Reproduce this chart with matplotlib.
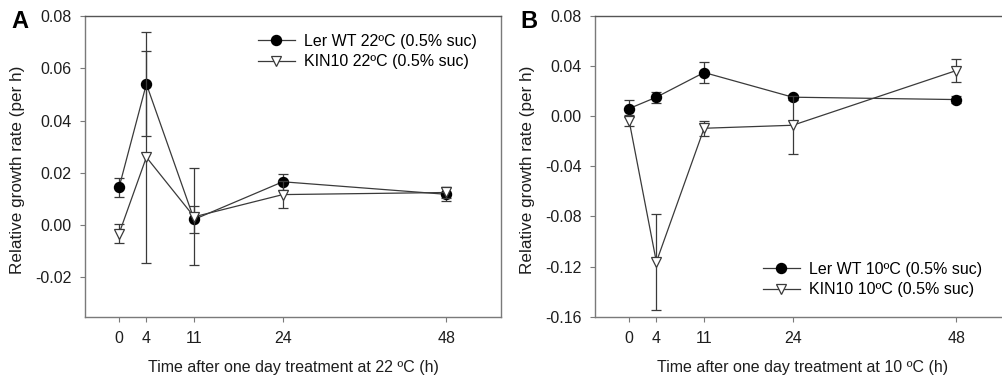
import matplotlib
matplotlib.use("Agg")
import matplotlib.pyplot as plt
from matplotlib.lines import Line2D

plt.rcParams['font.family'] = ['Liberation Sans', 'DejaVu Sans']

# Sampling times (h)
hours = [0, 4, 11, 24, 48]
tick_labels = ["0", "4", "11", "24", "48"]

# Panel A: 22 ºC
wt22 = [0.0145, 0.054, 0.0022, 0.0166, 0.0118]
wt22_err = [0.0037, 0.020, 0.0050, 0.0030, 0.0027]
kin22 = [-0.0032, 0.026, 0.0032, 0.0117, 0.0125]
kin22_err = [0.0037, 0.0405, 0.0185, 0.0053, 0.0022]

# Panel B: 10 ºC
wt10 = [0.0061, 0.0152, 0.0349, 0.0152, 0.0133]
wt10_err = [0.0070, 0.0045, 0.0080, 0.0020, 0.0030]
kin10 = [-0.0035, -0.1163, -0.0096, -0.0072, 0.0365]
kin10_err = [0.0043, 0.0380, 0.0060, 0.0230, 0.0093]

yticks_a = [-0.02, 0.00, 0.02, 0.04, 0.06, 0.08]
yticks_b = [-0.16, -0.12, -0.08, -0.04, 0.00, 0.04, 0.08]

W, H = 1003, 378
fig = plt.figure(figsize=(W / 100, H / 100), dpi=100)

line_col = "#3a3a3a"
spine_col = "#7a7a7a"
txt_col = "#1e1e1e"
fs = 11.5


def px_axes(left, top, right, bottom):
    return fig.add_axes([left / W, 1 - bottom / H, (right - left) / W, (bottom - top) / H])


def fig_xy(x, y):
    return (x / W, 1 - y / H)


def draw_panel(ax, wt, wt_err, kin, kin_err, ylim, yticks, temp, legend_xy):
    ax.errorbar(hours, wt, yerr=wt_err, color=line_col, lw=0.9, marker="o",
                ms=7.2, mfc="black", mec="black", ecolor=line_col, elinewidth=0.9,
                capsize=3.5, capthick=0.9, zorder=3)
    ax.errorbar(hours, kin, yerr=kin_err, color=line_col, lw=0.9, marker="v",
                ms=7.8, mfc="white", mec=line_col, mew=0.9, ecolor=line_col,
                elinewidth=0.9, capsize=3.5, capthick=0.9, zorder=4)
    ax.set_xlim(-5, 56)
    ax.set_ylim(*ylim)
    ax.set_xticks(hours)
    ax.set_xticklabels(tick_labels)
    ax.set_yticks(yticks)
    ax.set_yticklabels([f"{v:.2f}" for v in yticks])
    for s in ax.spines.values():
        s.set_color(spine_col)
        s.set_linewidth(1.0)
    ax.spines["top"].set_color("#555555")
    ax.tick_params(direction="out", length=3.5, width=0.8, color=spine_col,
                   labelsize=fs, labelcolor=txt_col)
    ax.tick_params(axis="y", pad=6)
    ax.tick_params(axis="x", pad=7)
    ax.set_ylabel("Relative growth rate (per h)", fontsize=12.3, color=txt_col)
    ax.set_xlabel(f"Time after one day treatment at {temp} ºC (h)", fontsize=fs,
                  color=txt_col)
    ax.yaxis.set_label_coords(-60 / 416, 0.49)
    ax.xaxis.set_label_coords(0.5, -43 / 300.7)
    handles = [
        Line2D([], [], color=line_col, lw=0.9, marker="o", ms=7.2, mfc="black", mec="black"),
        Line2D([], [], color=line_col, lw=0.9, marker="v", ms=7.8, mfc="white", mec=line_col, mew=0.9),
    ]
    labels = [f"Ler WT {temp}ºC (0.5% suc)", f"KIN10 {temp}ºC (0.5% suc)"]
    ax.legend(handles, labels, frameon=False, fontsize=fs, loc="upper left",
              bbox_to_anchor=fig_xy(*legend_xy), bbox_transform=fig.transFigure,
              handlelength=2.3, handletextpad=0.55, labelspacing=0.32,
              borderaxespad=0, borderpad=0)


ax_a = px_axes(85, 16, 501, 316.7)
draw_panel(ax_a, wt22, wt22_err, kin22, kin22_err, (-0.035, 0.08), yticks_a, 22, (258, 34))

ax_b = px_axes(595, 16, 1011, 316.7)
draw_panel(ax_b, wt10, wt10_err, kin10, kin10_err, (-0.16, 0.08), yticks_b, 10, (763, 262))

fig.text(11 / W, 1 - 21 / H, "A", fontsize=17, fontweight="bold", va="center", ha="left")
fig.text(520 / W, 1 - 21 / H, "B", fontsize=17, fontweight="bold", va="center", ha="left")

fig.savefig("out.png", dpi=100)
